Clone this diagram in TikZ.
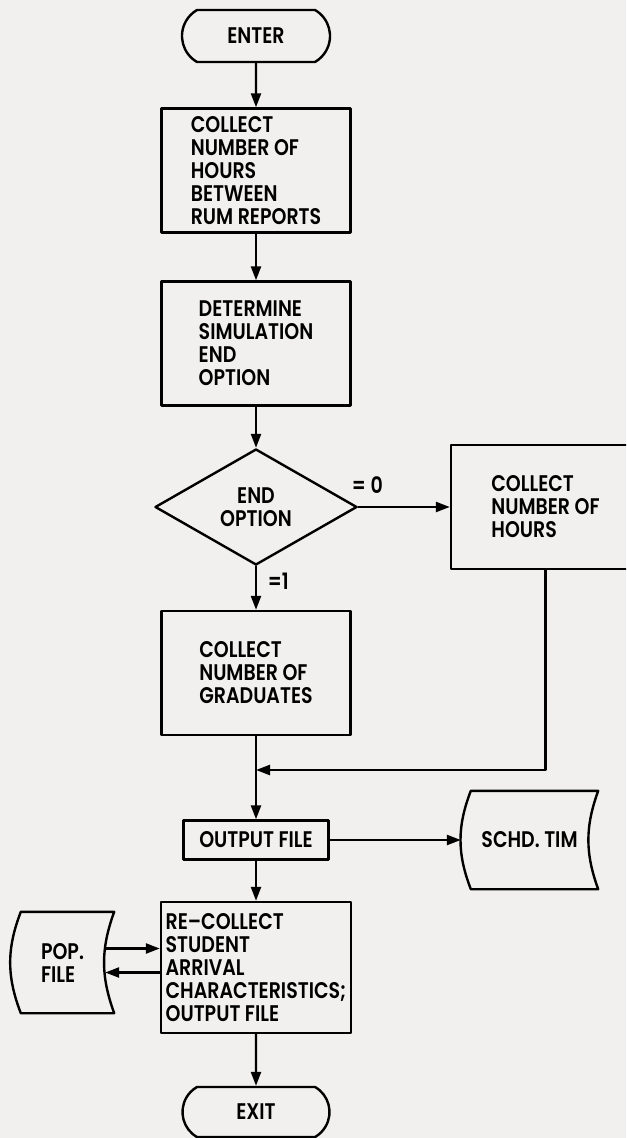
\documentclass[tikz,border=0pt]{standalone}
\usepackage{fontspec}
\setmainfont{Poppins}[UprightFont=* SemiBold, FakeStretch=0.84]
\usetikzlibrary{shapes.geometric,shapes.misc,arrows.meta}
\definecolor{paper}{RGB}{241,240,238}

\begin{document}
\begin{tikzpicture}[x=0.5pt,y=-0.5pt,>={Triangle[length=7pt,width=5pt]}, line width=1.2pt, line join=round, line cap=round,
	font=\fontsize{11.3}{11.5}\selectfont,
	box/.style={draw, minimum width=94.5pt, minimum height=62pt, align=left, inner sep=0pt},
	term/.style={draw, rounded rectangle, rounded rectangle arc length=120, minimum width=74pt, minimum height=26pt, inner sep=0pt},
	store/.style={minimum width=#1, minimum height=48pt, align=left, inner sep=0pt}]
	\def\xc{256} \def\xr{545.5}
	\useasboundingbox (0,0) rectangle (626,1138);
	\fill[paper] (0,0) rectangle (626,1138);
	\clip (0,0) rectangle (626,1138);
	% main column
	\node[term] (enter) at (\xc,36) {ENTER};
	\node[box] (hrs) at (\xc,170.5) {COLLECT\\NUMBER OF\\HOURS\\BETWEEN\\RUM REPORTS};
	\node[box] (opt) at (\xc,343.5) {DETERMINE\\SIMULATION\\END\\OPTION};
	\node[draw, diamond, aspect=1.75, minimum width=101pt, minimum height=58pt, inner sep=0pt, align=center] (dec) at (\xc,507) {END\\OPTION};
	\node[box] (nhrs) at (\xr,507) {COLLECT\\NUMBER OF\\HOURS};
	\node[box] (grad) at (\xc,673) {COLLECT\\NUMBER OF\\GRADUATES};
	\node[draw, minimum width=72.5pt, minimum height=19.5pt, inner sep=0pt] (out) at (\xc,840) {OUTPUT FILE};
	\node[store=67.5pt] (sched) at (529.5,840) {SCHD. TIM};
	\node[box, minimum width=95pt, minimum height=65.5pt] (recoll) at (\xc,967.5) {RE--COLLECT\\STUDENT\\ARRIVAL\\CHARACTERISTICS;\\OUTPUT FILE};
	\node[store=50.5pt, minimum height=49.5pt] (pop) at (62.5,962.5) {POP.\\FILE};
	\node[term, minimum width=73.5pt, minimum height=25pt] (exit) at (\xc,1112) {EXIT};
	% file outlines
	\foreach \s in {sched,pop}
	{\draw ([xshift=5pt]\s.north west) -- (\s.north east) to[bend right=20] (\s.south east)
		-- ([xshift=5pt]\s.south west) to[bend left=21] ([xshift=5pt]\s.north west) -- cycle;}
	% flow lines
	\foreach \a/\b in {enter/hrs,hrs/opt,opt/dec,grad/out,out/sched,out/recoll,recoll/exit}
	{\draw[->] (\a) -- (\b);}
	\draw[->] (dec) -- node[above,pos=0.1,yshift=3pt]{= 0} (nhrs);
	\draw[->] (dec) -- node[right,pos=0.35,xshift=2pt]{=1} (grad);
	\coordinate (merge) at (\xc,770);
	\draw[->] (nhrs.south) |- (merge);
	\coordinate (popA) at ([xshift=-4.5pt,yshift=7pt]pop.east);
	\coordinate (popB) at ([xshift=-4.5pt,yshift=-5pt]pop.east);
	\draw[->] (popA) -- (popA -| recoll.west);
	\draw[->] (popB -| recoll.west) -- (popB);
\end{tikzpicture}
\end{document}
